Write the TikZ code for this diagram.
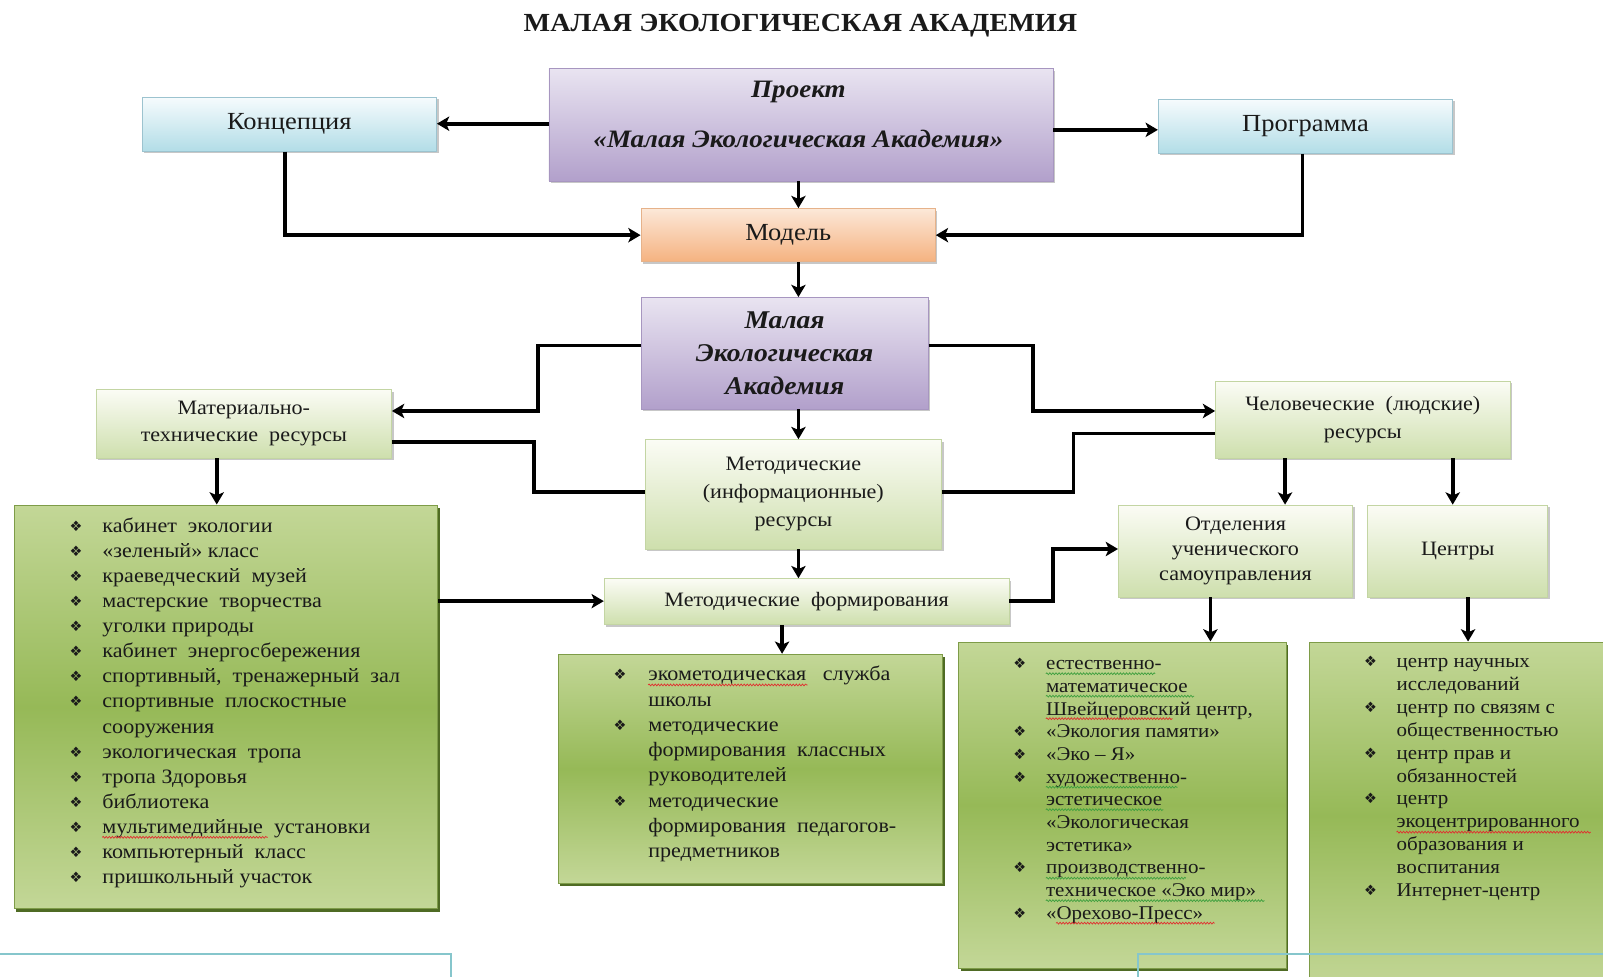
\documentclass[tikz,border=0pt]{standalone}
\usepackage{fontspec}
\setmainfont{Liberation Serif}[FakeStretch=1.08]
\newfontfamily\symfont{DejaVu Sans}
\usetikzlibrary{arrows.meta,shadows,decorations.pathmorphing}
\definecolor{txt}{HTML}{1A1A1A}
\definecolor{blueT}{HTML}{F6FBFD}
\definecolor{blueB}{HTML}{B2DDE7}
\definecolor{blueE}{HTML}{9CC3CF}
\definecolor{purT}{HTML}{E9E4F1}
\definecolor{purB}{HTML}{B2A0CB}
\definecolor{purE}{HTML}{A796C0}
\definecolor{orT}{HTML}{FCE8D8}
\definecolor{orB}{HTML}{F5B280}
\definecolor{orE}{HTML}{E6B28A}
\definecolor{grT}{HTML}{FBFCF5}
\definecolor{grB}{HTML}{CEDFAD}
\definecolor{grE}{HTML}{C3D5A3}
\definecolor{lsT}{HTML}{C3D797}
\definecolor{lsM}{HTML}{96B957}
\definecolor{lsE}{HTML}{7E9C48}
\definecolor{lsS}{HTML}{4F6B24}
\definecolor{frame}{HTML}{86C6CC}
\definecolor{wavered}{HTML}{E03030}
\definecolor{wavegreen}{HTML}{3FA03F}
\newcommand\bul{{\symfont\fontsize{14}{14}\selectfont ❖}}
\begin{document}
\begin{tikzpicture}[x=1pt,y=-1pt,
  arr/.style={line width=3.8pt, -{Stealth[length=12pt,width=14pt,inset=3pt]}},
  lnk/.style={line width=3.8pt},
  base/.style={rectangle, align=center, text=txt, inner sep=2pt},
  hshadow/.style={drop shadow={shadow xshift=2pt, shadow yshift=-2pt, fill=black, opacity=0.22}},
  bluebox/.style={base, hshadow, draw=blueE, line width=0.8pt, top color=blueT, bottom color=blueB, font=\fontsize{24}{28}\selectfont},
  purbox/.style={base, hshadow, draw=purE, line width=0.8pt, top color=purT, bottom color=purB},
  orbox/.style={base, hshadow, draw=orE, line width=0.8pt, top color=orT, bottom color=orB, font=\fontsize{24}{28}\selectfont},
  grbox/.style={base, hshadow, draw=grE, line width=0.8pt, top color=grT, bottom color=grB, font=\fontsize{20}{26}\selectfont},
  lstbox/.style={rectangle, draw=lsE, line width=1pt, top color=lsT, bottom color=lsT, middle color=lsM,
     drop shadow={shadow xshift=2pt, shadow yshift=-3pt, fill=lsS, opacity=1}},
  ltxt/.style={anchor=base west, inner sep=0pt, text=txt},
  btxt/.style={anchor=base west, inner sep=0pt, text=txt},
  wave/.style={decorate, decoration={snake, amplitude=0.9pt, segment length=3pt}, line width=0.7pt},
  thinframe/.style={draw=frame, line width=1.3pt}
]
\useasboundingbox (0,0) rectangle (1568,955);
\fill[white] (0,0) rectangle (1568,955);

% title
\node[text=txt, font=\bfseries\fontsize{25.5}{28}\selectfont] (title) at (783,25) {МАЛАЯ ЭКОЛОГИЧЕСКАЯ АКАДЕМИЯ};

% top boxes
\node[purbox, minimum width=493, minimum height=110] (proj) at (783.5,122) {};
\node[text=txt, align=center, font=\bfseries\itshape\fontsize{24.5}{49}\selectfont] (projt) at (781,112) {Проект\\«Малая Экологическая Академия»};
\node[bluebox, minimum width=288, minimum height=53] (konc) at (283,121.5) {Концепция};
\node[bluebox, minimum width=288, minimum height=53] (prog) at (1277,123.5) {Программа};
\node[orbox, minimum width=288, minimum height=52] (model) at (771,230) {Модель};
\node[purbox, minimum width=281, minimum height=109, font=\bfseries\itshape\fontsize{25}{32.5}\selectfont] (mea) at (767.5,345.5) {Малая\\Экологическая\\Академия};

% resource boxes
\node[grbox, minimum width=289, minimum height=67] (mat) at (238.5,414.5) {Материально-\\технические\ \ ресурсы};
\node[grbox, minimum width=290, minimum height=107, font=\fontsize{20}{27.5}\selectfont] (metres) at (776,483.5) {Методические\\(информационные)\\ресурсы};
\node[grbox, minimum width=288, minimum height=75, font=\fontsize{20}{27}\selectfont] (chel) at (1333,410.5) {Человеческие\ \ (людские)\\ресурсы};
\node[grbox, minimum width=229, minimum height=90, font=\fontsize{20}{24.5}\selectfont] (otd) at (1208.5,539) {Отделения\\ученического\\самоуправления};
\node[grbox, minimum width=176, minimum height=90] (centr) at (1426,539) {Центры};
\node[grbox, minimum width=396, minimum height=45] (metform) at (789,588.5) {Методические\ \ формирования};

% list boxes
\node[lstbox, minimum width=414, minimum height=395] (list1) at (221,691.5) {};
\node[lstbox, minimum width=376, minimum height=224] (list2) at (734,752) {};
\node[lstbox, minimum width=320, minimum height=319] (list3) at (1098,787.5) {};
\node[lstbox, minimum width=296, minimum height=340] (list4) at (1429,798) {};

% list 1
\begin{scope}[font=\fontsize{20}{24}\selectfont]
\foreach \b/\t [count=\i] in {1/кабинет\ \ экологии, 1/«зеленый»\ класс, 1/краеведческий\ \ музей,
  1/мастерские\ \ творчества, 1/уголки природы, 1/кабинет\ \ энергосбережения,
  1/{спортивный,\ \ тренажерный\ \ зал}, 1/спортивные\ \ плоскостные, 0/сооружения,
  1/экологическая\ \ тропа, 1/тропа Здоровья, 1/библиотека, 1/мультимедийные\ \ установки,
  1/компьютерный\ \ класс, 1/пришкольный\ участок}{
  \node[ltxt] (la\i) at (100,{521+(\i-1)*24.5}) {\t};
  \ifnum\b=1 \node[btxt] (ba\i) at (68,{520+(\i-1)*24.5}) {\bul};\fi
}
\end{scope}

% list 2
\begin{scope}[font=\fontsize{20}{24}\selectfont]
\foreach \b/\t [count=\i] in {1/экометодическая\ \ \ служба, 0/школы, 1/методические,
  0/формирования\ \ классных, 0/руководителей, 1/методические,
  0/формирования\ \ педагогов-, 0/предметников}{
  \node[ltxt] (lb\i) at (634,{666+(\i-1)*24.7}) {\t};
  \ifnum\b=1 \node[btxt] (bb\i) at (600,{665+(\i-1)*24.7}) {\bul};\fi
}
\end{scope}

% list 3
\begin{scope}[font=\fontsize{19}{22}\selectfont]
\foreach \b/\t [count=\i] in {1/естественно-, 0/математическое, 0/{Швейцеровский\ центр,},
  1/«Экология памяти», 1/«Эко – Я», 1/художественно-, 0/эстетическое, 0/«Экологическая,
  0/эстетика», 1/производственно-, 0/техническое «Эко мир», 1/«Орехово-Пресс»}{
  \node[ltxt] (lc\i) at (1023,{655+(\i-1)*22.2}) {\t};
  \ifnum\b=1 \node[btxt] (bc\i) at (991,{654+(\i-1)*22.2}) {\bul};\fi
}
\end{scope}

% list 4
\begin{scope}[font=\fontsize{19}{22}\selectfont]
\foreach \b/\t [count=\i] in {1/центр научных, 0/исследований, 1/центр по связям с,
  0/общественностью, 1/центр прав и, 0/обязанностей, 1/центр, 0/экоцентрированного,
  0/образования и, 0/воспитания, 1/Интернет-центр}{
  \node[ltxt] (ld\i) at (1366,{653+(\i-1)*22.4}) {\t};
  \ifnum\b=1 \node[btxt] (bd\i) at (1334,{652+(\i-1)*22.4}) {\bul};\fi
}
\end{scope}

% spell-check underlines
\draw[wave, wavered] (100,819) -- (262,819);
\draw[wave, wavered] (634,670) -- (790,670);
\draw[wave, wavegreen] (1023,659) -- (1130,659);
\draw[wave, wavegreen] (1023,681) -- (1168,681);
\draw[wave, wavered] (1023,703) -- (1147,703);
\draw[wave, wavegreen] (1023,770) -- (1152,770);
\draw[wave, wavegreen] (1023,792) -- (1138,792);
\draw[wave, wavegreen] (1023,859) -- (1160,859);
\draw[wave, wavegreen] (1023,881) -- (1237,881);
\draw[wave, wavered] (1033,903) -- (1188,903);
\draw[wave, wavered] (1366,814) -- (1556,814);

% helper coordinates
\coordinate (cx) at (781,0);
\coordinate (cx2) at (765,0);
\coordinate (cx3) at (212,0);
\coordinate (cx4) at (1257,0);
\coordinate (cx5) at (1421,0);
\coordinate (cx6) at (1184,0);
\coordinate (cx7) at (1436,0);

% connectors
\draw[arr] (proj.west |- 0,121) -- (konc.east |- 0,121);
\draw[arr] (proj.east |- 0,127) -- (prog.west |- 0,127);
\draw[arr] (proj.south -| cx) -- (model.north -| cx);
\draw[arr] (konc.south -| 279,0) |- (model.west);
\draw[arr] (prog.south -| 1274,0) |- (model.east);
\draw[arr] (model.south -| cx) -- (mea.north -| cx);
\draw[arr] (mea.west |- 0,338) -- (526,338) -- (526,402) -- (mat.east |- 0,402);
\draw[arr] (mea.east |- 0,338) -- (1010,338) -- (1010,402) -- (chel.west |- 0,402);
\draw[arr] (mea.south -| cx) -- (metres.north -| cx);
\draw[lnk] (mat.east |- 0,432) -- (522,432) -- (522,481) -- (metres.west |- 0,481);
\draw[lnk] (metres.east |- 0,481) -- (1050,481) -- (1050,424) -- (chel.west |- 0,424);
\draw[arr] (metres.south -| cx) -- (metform.north -| cx);
\draw[arr] (list1.east |- 0,588) -- (metform.west |- 0,588);
\draw[arr] (metform.east |- 0,588) -- (1030,588) -- (1030,537) -- (otd.west |- 0,537);
\draw[arr] (metform.south -| cx2) -- (list2.north -| cx2);
\draw[arr] (mat.south -| cx3) -- (list1.north -| cx3);
\draw[arr] (chel.south -| cx4) -- (otd.north -| cx4);
\draw[arr] (chel.south -| cx5) -- (centr.north -| cx5);
\draw[arr] (otd.south -| cx6) -- (list3.north -| cx6);
\draw[arr] (centr.south -| cx7) -- (list4.north -| cx7);

% thin frame fragments at the bottom
\draw[thinframe] (0,933) -- (441,933) -- (441,956);
\draw[thinframe] (1113,956) -- (1113,933) -- (1569,933);
\end{tikzpicture}
\end{document}
